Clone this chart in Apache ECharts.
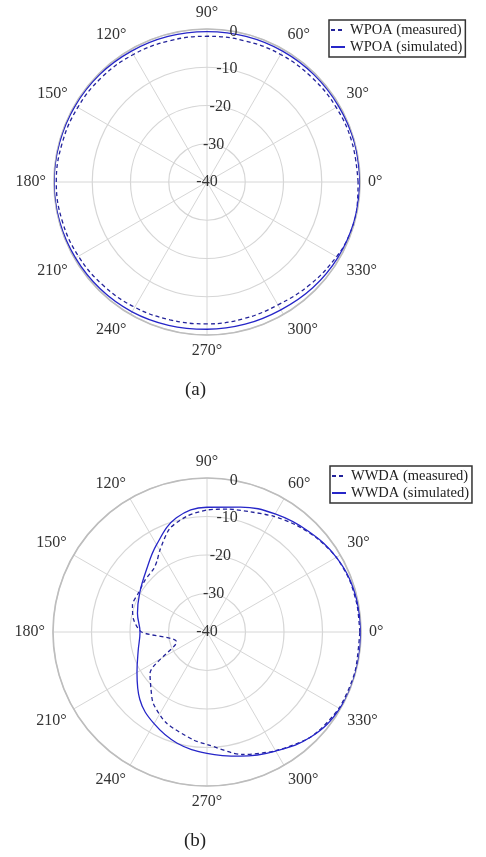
<!DOCTYPE html>
<html>
<head>
<meta charset="utf-8">
<script src="https://cdn.jsdelivr.net/npm/echarts@6/dist/echarts.min.js"></script>
<style>
html,body{margin:0;padding:0;background:#fff;}
#chart{width:486px;height:857px;}
</style>
</head>
<body>
<div id="chart"></div>
<script>
// ---- data ----
const angleTicks = [0, 30, 60, 90, 120, 150, 180, 210, 240, 270, 300, 330];
const radiusTicks = [-40, -30, -20, -10, 0];

// (a) WPOA
const aSimAngles = [0,15,30,45,60,75,90,105,120,135,150,165,180,195,210,225,240,255,270,285,300,315,330,345,360];
const aSimDb     = [0,-0.1,-0.3,-0.4,-0.5,-0.6,-0.7,-0.6,-0.5,-0.3,-0.2,-0.1,0,-0.1,-0.3,-0.5,-0.8,-1.2,-1.5,-1.5,-1.4,-0.9,-0.5,-0.2,0];
const aMeasAngles = [0,15,30,45,60,75,90,105,120,135,150,165,180,195,210,225,240,255,270,285,300,315,330,340,350,360];
const aMeasDb     = [-0.5,-0.7,-1.0,-1.3,-1.5,-1.8,-1.9,-1.8,-1.5,-1.2,-1.0,-0.8,-0.6,-0.8,-1.2,-1.7,-2.2,-2.7,-2.9,-3.0,-2.9,-2.0,-0.9,-0.3,-0.2,-0.5];

// (b) WWDA
const bSimAngles = [0,15,30,45,60,75,90,105,120,135,150,165,180,195,210,225,240,255,270,285,300,315,330,345,360];
const bSimDb     = [0,-0.3,-1.2,-2.9,-4.6,-6.4,-7.6,-9.3,-13.8,-17.6,-19.8,-21.3,-22.6,-21.5,-19.0,-15.3,-12.5,-10.1,-8.5,-6.6,-4.3,-1.6,-0.2,0,0];
const bMeasAngles = [0,10,20,30,40,50,60,70,80,90,100,110,120,125,130,140,150,160,170,180,198,216,225,233,246,263,270,286,300,315,330,345,360];
const bMeasDb     = [-0.3,-0.4,-0.6,-1.2,-2.4,-3.8,-5.3,-6.8,-7.6,-8.3,-9.5,-11.5,-15.5,-17.4,-18.5,-19.0,-19.5,-19.4,-20.6,-23.0,-31.7,-21.7,-19.4,-16.8,-14.1,-11.7,-10.8,-6.9,-4.4,-1.6,-0.4,-0.2,-0.3];

const aNames = ['WPOA (measured)', 'WPOA (simulated)'];
const bNames = ['WWDA (measured)', 'WWDA (simulated)'];
const captions = ['(a)', '(b)'];

function zip(angles, vals) { return angles.map((a, i) => [vals[i], a]); }

const FONT = "'Liberation Serif', 'Times New Roman', serif";
const GRID = '#d6d6d6';
const OUTER = '#bdbdbd';
const MEAS_COLOR = '#23239a';
const SIM_COLOR = '#2626c8';

const polars = [
  { center: [207, 182], radius: 153 },
  { center: [207, 182], radius: 153 },
  { center: [207, 632], radius: 154 },
  { center: [207, 632], radius: 154 }
];

function mainAngle(pi) {
  return {
    polarIndex: pi, type: 'value', min: 0, max: 360, interval: 30,
    startAngle: 0, clockwise: false,
    axisLine: { show: true, lineStyle: { color: OUTER, width: 1.6 } },
    axisTick: { show: false },
    axisLabel: { show: true, margin: 8, formatter: '{value}°', color: '#333', fontFamily: FONT, fontSize: 16 },
    splitLine: { show: true, lineStyle: { color: GRID, width: 1 } }
  };
}
function overlayAngle(pi) {
  return {
    polarIndex: pi, type: 'value', min: 0, max: 360, startAngle: 80, clockwise: false, show: false
  };
}
function mainRadius(pi) {
  return {
    polarIndex: pi, type: 'value', min: -40, max: 0, interval: 10,
    axisLine: { show: false }, axisTick: { show: false }, axisLabel: { show: false },
    splitLine: { show: true, lineStyle: { color: GRID, width: 1.2 } }
  };
}
function overlayRadius(pi) {
  return {
    polarIndex: pi, type: 'value', min: -40, max: 0, interval: 10, z: 5,
    axisLine: { show: false }, axisTick: { show: false },
    splitLine: { show: false },
    axisLabel: { show: true, margin: 0, align: 'center', verticalAlign: 'middle', color: '#333', fontFamily: FONT, fontSize: 16 }
  };
}

function legend(names, left, top) {
  return {
    data: names, orient: 'vertical', left: left, top: top,
    padding: [2, 3, 2, 1], itemGap: 1, itemWidth: 14, itemHeight: 14,
    borderColor: '#333', borderWidth: 1.5, backgroundColor: '#fff',
    itemStyle: { opacity: 0, color: 'transparent', borderWidth: 0 },
    textStyle: { fontFamily: FONT, fontSize: 14.5, color: '#222', lineHeight: 16 }
  };
}

function lineSeries(name, pi, data, dashed, color, smooth) {
  return {
    name: name, type: 'line', coordinateSystem: 'polar', polarIndex: pi,
    data: data, symbol: 'none', smooth: smooth, z: 3,
    lineStyle: { color: color, width: 1.3, type: dashed ? [4, 3] : 'solid' },
    itemStyle: { color: color }
  };
}

const option = {
  animation: false,
  backgroundColor: '#fff',
  title: [
    { text: captions[0], left: 185, top: 381, padding: 0, textStyle: { fontFamily: FONT, fontSize: 19, fontWeight: 'normal', color: '#222' } },
    { text: captions[1], left: 184, top: 832, padding: 0, textStyle: { fontFamily: FONT, fontSize: 19, fontWeight: 'normal', color: '#222' } }
  ],
  legend: [ legend(aNames, 329, 20), legend(bNames, 330, 466) ],
  polar: polars,
  angleAxis: [ mainAngle(0), overlayAngle(1), mainAngle(2), overlayAngle(3) ],
  radiusAxis: [ mainRadius(0), overlayRadius(1), mainRadius(2), overlayRadius(3) ],
  series: [
    lineSeries(aNames[0], 0, zip(aMeasAngles, aMeasDb), true, MEAS_COLOR, 0.4),
    lineSeries(aNames[1], 0, zip(aSimAngles, aSimDb), false, SIM_COLOR, 0.4),
    lineSeries(bNames[0], 2, zip(bMeasAngles, bMeasDb), true, MEAS_COLOR, 0.25),
    lineSeries(bNames[1], 2, zip(bSimAngles, bSimDb), false, SIM_COLOR, 0.4)
  ]
};

const chart = echarts.init(document.getElementById('chart'), null, { renderer: 'canvas' });
chart.setOption(option);
</script>
</body>
</html>
